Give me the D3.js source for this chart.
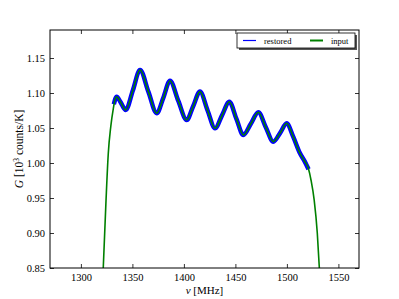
<!DOCTYPE html>
<html>
<head>
<meta charset="utf-8">
<script src="https://cdn.jsdelivr.net/npm/d3@7"></script>
<style>
  body { margin: 0; background: #fff; }
  svg { display: block; }
  text { font-family: "Liberation Serif", "DejaVu Serif", serif; fill: #000; }
</style>
</head>
<body>
<div id="chart"></div>
<script>
// input gain curve (green)
const inputNu = [1321.7, 1324.4, 1326.6, 1329, 1331.5, 1333, 1334.7, 1338.5, 1343.5, 1350.5,
    1357.4, 1365.5, 1373.6, 1380, 1386.5, 1394.5, 1402.7, 1409, 1415.6, 1423,
    1430.2, 1437, 1444.1, 1451, 1457.7, 1465, 1472.3, 1479.5, 1486.8, 1493.5,
    1499.8, 1506, 1512.7, 1517, 1520.8, 1523.5, 1526.5, 1529.5, 1531.5];
const inputG = [0.85, 0.947, 1.014, 1.052, 1.078, 1.09, 1.0947, 1.087, 1.0757, 1.104,
    1.133, 1.102, 1.071, 1.093, 1.1176, 1.089, 1.0614, 1.081, 1.102, 1.075,
    1.0496, 1.068, 1.0876, 1.063, 1.04, 1.056, 1.0724, 1.051, 1.0305, 1.043,
    1.0567, 1.038, 1.0138, 1.003, 0.9924, 0.975, 0.947, 0.90, 0.85];

// restored curve (blue), covers the flat part of the band only
const restoredNu = [1332, 1334.7, 1338.5, 1343.5, 1350.5, 1357.4, 1365.5, 1373.6, 1380, 1386.5,
    1394.5, 1402.7, 1409, 1415.6, 1423, 1430.2, 1437, 1444.1, 1451, 1457.7,
    1465, 1472.3, 1479.5, 1486.8, 1493.5, 1499.8, 1506, 1512.7, 1517, 1521];
const restoredG = [1.084, 1.0947, 1.087, 1.0757, 1.104, 1.133, 1.102, 1.071, 1.093, 1.1176,
    1.089, 1.0614, 1.081, 1.102, 1.075, 1.0496, 1.068, 1.0876, 1.063, 1.04,
    1.056, 1.0724, 1.051, 1.0305, 1.043, 1.0567, 1.038, 1.0138, 1.003, 0.991];

const xTicks = [1300, 1350, 1400, 1450, 1500, 1550];
const yTicks = [0.85, 0.90, 0.95, 1.00, 1.05, 1.10, 1.15];

const W = 399, H = 299;
const plot = { left: 50, top: 30, right: 359, bottom: 268 };

const svg = d3.select("#chart")
    .append("svg")
    .attr("width", W)
    .attr("height", H);

const x = d3.scaleLinear().domain([1270, 1570]).range([plot.left, plot.right]);
const y = d3.scaleLinear().domain([0.85, 1.19]).range([plot.bottom, plot.top]);

svg.append("defs")
    .append("clipPath")
    .attr("id", "clip")
    .append("rect")
    .attr("x", plot.left)
    .attr("y", plot.top)
    .attr("width", plot.right - plot.left)
    .attr("height", plot.bottom - plot.top);

const line = d3.line()
    .x(d => x(d[0]))
    .y(d => y(d[1]))
    .curve(d3.curveMonotoneX);

const curves = svg.append("g").attr("clip-path", "url(#clip)");

curves.append("path")
    .datum(d3.zip(restoredNu, restoredG))
    .attr("d", line)
    .attr("fill", "none")
    .attr("stroke", "#0000ff")
    .attr("stroke-width", 4.5)
    .attr("stroke-linejoin", "round");

curves.append("path")
    .datum(d3.zip(inputNu, inputG))
    .attr("d", line)
    .attr("fill", "none")
    .attr("stroke", "#008000")
    .attr("stroke-width", 1.6);

// axes: ticks inside, mirrored on top and right
const tickLen = 4;
const fmtY = d3.format(".2f");
const fmtX = d3.format("d");

const bottomAxis = svg.append("g")
    .attr("transform", `translate(0,${plot.bottom})`)
    .call(d3.axisBottom(x).tickValues(xTicks).tickSize(-tickLen).tickPadding(5.5).tickFormat(fmtX));
const topAxis = svg.append("g")
    .attr("transform", `translate(0,${plot.top})`)
    .call(d3.axisTop(x).tickValues(xTicks).tickSize(-tickLen).tickFormat(""));
const leftAxis = svg.append("g")
    .attr("transform", `translate(${plot.left},0)`)
    .call(d3.axisLeft(y).tickValues(yTicks).tickSize(-tickLen).tickPadding(5).tickFormat(fmtY));
const rightAxis = svg.append("g")
    .attr("transform", `translate(${plot.right},0)`)
    .call(d3.axisRight(y).tickValues(yTicks).tickSize(-tickLen).tickFormat(""));

[bottomAxis, topAxis, leftAxis, rightAxis].forEach(a => {
    a.attr("font-family", "'Liberation Serif', serif").attr("font-size", 10.5);
    a.select(".domain").remove();
    a.selectAll(".tick line").attr("stroke", "#000").attr("stroke-width", 0.8);
    a.selectAll("text").attr("fill", "#000");
});

svg.append("rect")
    .attr("x", plot.left)
    .attr("y", plot.top)
    .attr("width", plot.right - plot.left)
    .attr("height", plot.bottom - plot.top)
    .attr("fill", "none")
    .attr("stroke", "#000")
    .attr("stroke-width", 1);

// axis labels
svg.append("text")
    .attr("x", (plot.left + plot.right) / 2)
    .attr("y", 294)
    .attr("text-anchor", "middle")
    .style("font-size", "11px")
    .html('<tspan font-style="italic">ν</tspan> [MHz]');

svg.append("text")
    .attr("transform", `translate(23,${(plot.top + plot.bottom) / 2}) rotate(-90)`)
    .attr("text-anchor", "middle")
    .style("font-size", "11.5px")
    .html('<tspan font-style="italic">G</tspan> [10<tspan dy="-4" font-size="7.5px">3</tspan><tspan dy="4"> counts/K]</tspan>');

// legend
const legend = { x: 237, y: 33, w: 118, h: 15 };
svg.append("rect")
    .attr("x", legend.x + 2)
    .attr("y", legend.y + 2)
    .attr("width", legend.w)
    .attr("height", legend.h)
    .attr("fill", "#555");
svg.append("rect")
    .attr("x", legend.x)
    .attr("y", legend.y)
    .attr("width", legend.w)
    .attr("height", legend.h)
    .attr("fill", "#fff")
    .attr("stroke", "#000")
    .attr("stroke-width", 0.8);

const items = [
    { label: "restored", color: "#0000ff", width: 1.2, x0: 243 },
    { label: "input", color: "#008000", width: 2, x0: 310 },
];
const ly = legend.y + legend.h / 2;
items.forEach(it => {
    svg.append("line")
        .attr("x1", it.x0)
        .attr("x2", it.x0 + 13)
        .attr("y1", ly)
        .attr("y2", ly)
        .attr("stroke", it.color)
        .attr("stroke-width", it.width);
    svg.append("text")
        .attr("x", it.x0 + 21)
        .attr("y", ly + 3)
        .style("font-size", "8.5px")
        .text(it.label);
});
</script>
</body>
</html>
